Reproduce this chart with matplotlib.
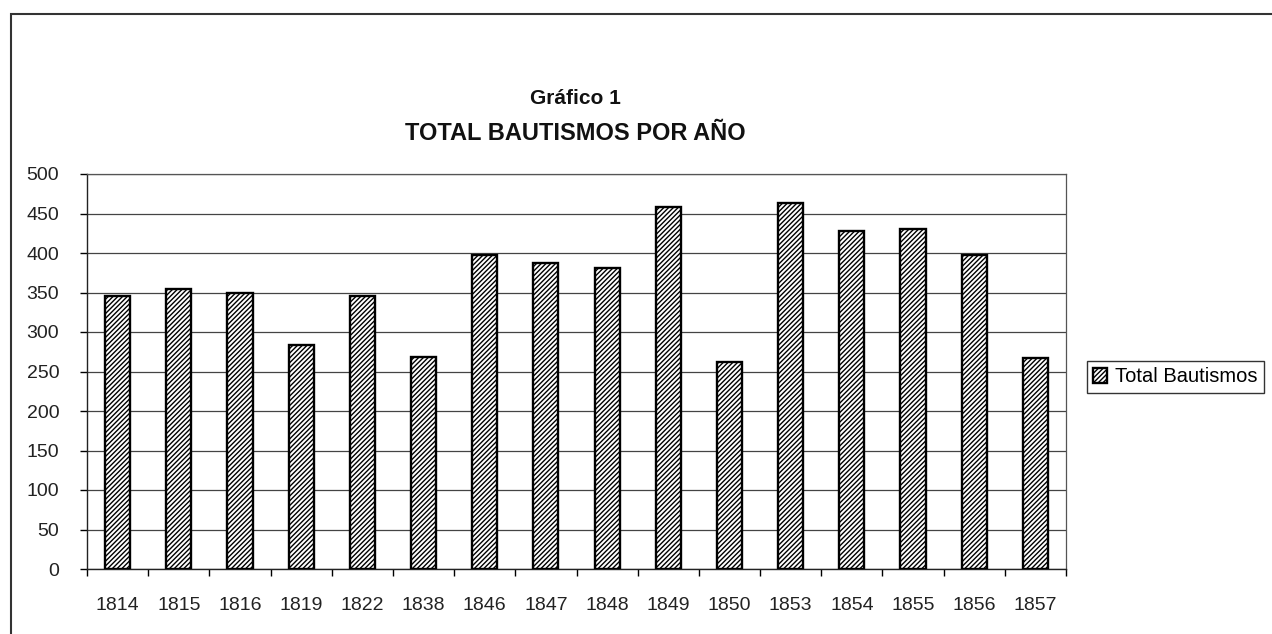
import matplotlib
matplotlib.use("Agg")
import matplotlib.pyplot as plt
from matplotlib.patches import Rectangle
import numpy as np

plt.rcParams['font.family'] = ['Liberation Sans', 'DejaVu Sans']
plt.rcParams['hatch.linewidth'] = 1.0

years = ['1814', '1815', '1816', '1819', '1822', '1838', '1846', '1847',
         '1848', '1849', '1850', '1853', '1854', '1855', '1856', '1857']
bautismos = [346, 355, 349, 283, 345, 268, 398, 387,
             381, 458, 262, 463, 428, 431, 397, 267]
series_name = 'Total Bautismos'
yticks = [0, 50, 100, 150, 200, 250, 300, 350, 400, 450, 500]

W, H = 1272, 634
fig = plt.figure(figsize=(W / 100, H / 100), dpi=100)
ax = fig.add_axes([87 / W, 1 - 569 / H, (1066 - 87) / W, (569 - 174) / H])

x = np.arange(len(years))
bars = ax.bar(x, bautismos, width=0.41, color='white', edgecolor='black',
              linewidth=1.7, hatch='///////', label=series_name, zorder=3)

ax.set_xlim(-0.5, len(years) - 0.5)
ax.set_ylim(0, 500)
ax.set_yticks(yticks)
ax.set_yticklabels([str(v) for v in yticks], fontsize=14, color='#222222')
ax.set_xticks(x)
ax.set_xticklabels(years, fontsize=14, color='#222222')
ax.tick_params(axis='x', length=0, pad=20)
ax.set_xticks(np.arange(-0.5, len(years)), minor=True)
ax.tick_params(axis='x', which='minor', length=5, width=1, direction='out')
ax.tick_params(axis='y', length=5, width=1, direction='out', pad=15)

ax.grid(axis='y', color='#444444', linewidth=0.9, zorder=0)
for side in ['top', 'right']:
    ax.spines[side].set_color('#555555')
    ax.spines[side].set_linewidth(0.9)
for side in ['left', 'bottom']:
    ax.spines[side].set_color('#222222')
    ax.spines[side].set_linewidth(1.0)

fig.text(575 / W, 1 - 98 / H, 'Gráfico 1', ha='center', va='center',
         fontsize=15, fontweight='bold', color='#111111')
fig.text(575 / W, 1 - 134 / H, 'TOTAL BAUTISMOS POR AÑO', ha='center',
         va='center', fontsize=17, fontweight='bold', color='#111111')

leg = fig.legend(handles=[bars], labels=[series_name], loc='center left',
                 bbox_to_anchor=(1087 / W, 1 - 377 / H), fontsize=14.5,
                 frameon=True, fancybox=False, edgecolor='black',
                 handlelength=0.7, handleheight=0.7, handletextpad=0.4,
                 borderpad=0.3, borderaxespad=0)
leg.get_frame().set_linewidth(1.0)

frame = Rectangle((11 / W, -0.05), 1.2, 1 - 14 / H + 0.05,
                  transform=fig.transFigure, fill=False,
                  edgecolor='#333333', linewidth=1.5, clip_on=False)
fig.patches.append(frame)

fig.savefig('out.png', dpi=100, facecolor='white')
